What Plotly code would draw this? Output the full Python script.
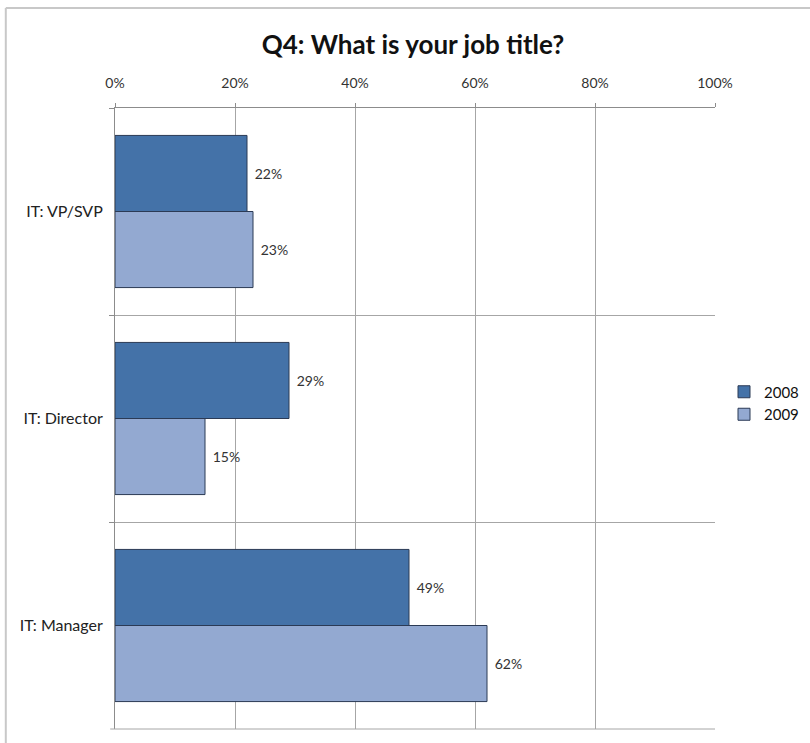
import plotly.graph_objects as go

categories = ["IT: VP/SVP", "IT: Director", "IT: Manager"]
series_names = ["2008", "2009"]
values_2008 = [22, 29, 49]
values_2009 = [23, 15, 62]
tick_vals = [0, 20, 40, 60, 80, 100]
tick_text = ["0%", "20%", "40%", "60%", "80%", "100%"]

colors = ["#4472A8", "#93A9D1"]
font_family = "Lato, Carlito, 'Liberation Sans', sans-serif"

fig = go.Figure()
for name, vals, col in zip(series_names, [values_2008, values_2009], colors):
    fig.add_trace(go.Bar(
        y=categories, x=vals, name=name, orientation="h",
        marker=dict(color=col, line=dict(color="#2B3A55", width=1)),
        text=[f"\u2004{v}%" for v in vals], textposition="outside",
        textfont=dict(size=14, color="#333333", family=font_family),
        cliponaxis=False,
    ))

fig.update_layout(
    width=810, height=743,
    paper_bgcolor="white", plot_bgcolor="white",
    margin=dict(l=115, r=95, t=108, b=14),
    barmode="group", bargap=0.265, bargroupgap=0,
    title=dict(text="<b>Q4: What is your job title?</b>", x=(413 - 115) / 600, xref="paper",
               xanchor="center", y=1 - 45 / 743, yanchor="middle",
               font=dict(size=26, color="#111111", family=font_family)),
    legend=dict(xref="container", yref="container", x=724 / 810, y=1 - 403 / 743,
                xanchor="left", yanchor="middle",
                font=dict(size=15, color="#111111", family=font_family),
                traceorder="normal", itemwidth=30),
    xaxis=dict(side="top", range=[0, 100], tickvals=tick_vals, ticktext=tick_text,
               showgrid=True, gridcolor="#A6A6A6", gridwidth=1,
               showline=True, linecolor="#8C8C8C", linewidth=1,
               ticks="outside", ticklen=4, tickcolor="#8C8C8C",
               ticklabelstandoff=9,
               tickfont=dict(size=14, color="#333333", family=font_family),
               zeroline=False, mirror=False, automargin=False),
    yaxis=dict(autorange="reversed", tickson="boundaries", showgrid=True,
               gridcolor="#A6A6A6", gridwidth=1, showline=True, linecolor="#8C8C8C",
               ticks="outside", ticklen=5, tickcolor="#8C8C8C",
               ticklabelstandoff=8,
               tickfont=dict(size=16, color="#222222", family=font_family),
               automargin=False),
    shapes=[
        dict(type="line", xref="paper", yref="paper", x0=-0.182, x1=1.2, y0=1.161, y1=1.161,
             line=dict(color="#C8C8C8", width=2)),
        dict(type="line", xref="paper", yref="paper", x0=-0.182, x1=-0.182, y0=1.161, y1=-0.03,
             line=dict(color="#C8C8C8", width=2)),
        dict(type="line", xref="paper", yref="paper", x0=-0.008, x1=1.0, y0=0, y1=0,
             line=dict(color="#A6A6A6", width=1)),
    ],
)

fig.write_html("out.html", config={"displayModeBar": False},
               post_script="document.body.style.margin='0';")
